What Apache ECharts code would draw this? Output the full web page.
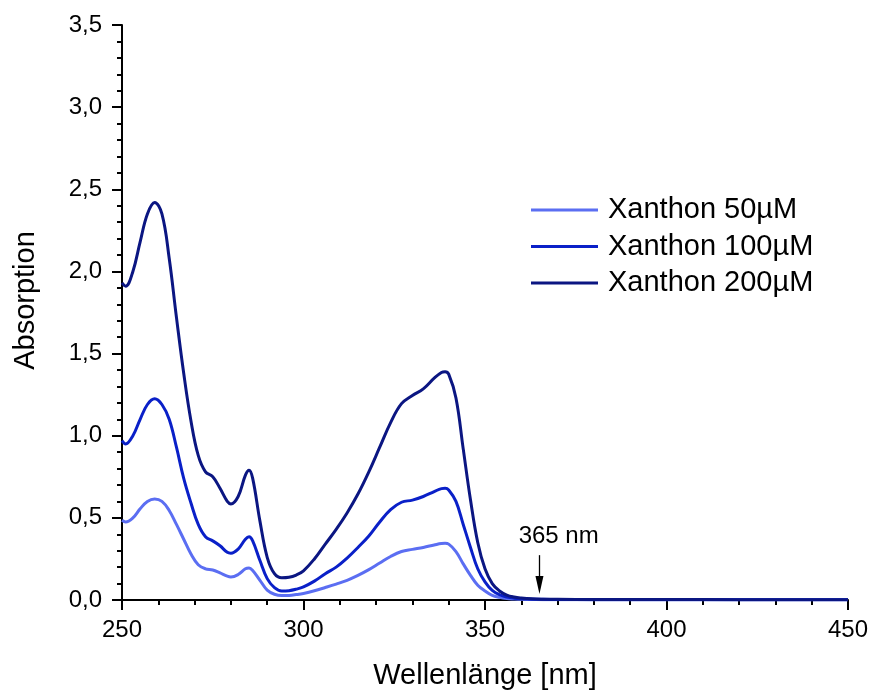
<!DOCTYPE html>
<html>
<head>
<meta charset="utf-8">
<script src="https://cdn.jsdelivr.net/npm/echarts@6/dist/echarts.min.js"></script>
<style>html,body{margin:0;padding:0;background:#fff}#c{width:875px;height:695px}</style>
</head>
<body>
<div id="c"></div>
<script>
var wavelengths = [250,251,253,255,257,259,261,263,265,267,269,271,273,275,277,279,280,282,284,285,286,288,290,292,294,296,298,300,303,306,309,312,315,318,321,324,327,330,333,336,338,339,340,342,344,346,348,350,352,354,356,358,360,363,366,370,380,400,420,450];
var abs200 = [1.93,1.91,2.00,2.18,2.35,2.42,2.35,2.08,1.72,1.38,1.09,0.88,0.78,0.75,0.68,0.60,0.585,0.63,0.76,0.79,0.74,0.48,0.26,0.16,0.135,0.138,0.152,0.178,0.25,0.34,0.43,0.53,0.645,0.78,0.93,1.08,1.195,1.245,1.285,1.35,1.385,1.39,1.375,1.23,0.92,0.61,0.35,0.19,0.10,0.055,0.03,0.018,0.012,0.007,0.005,0.004,0.003,0.003,0.002,0.002];
var abs100 = [0.97,0.95,1.00,1.10,1.19,1.225,1.19,1.10,0.93,0.74,0.59,0.46,0.385,0.36,0.33,0.29,0.285,0.31,0.37,0.385,0.36,0.24,0.13,0.075,0.055,0.057,0.066,0.08,0.115,0.16,0.20,0.255,0.32,0.39,0.475,0.55,0.595,0.608,0.63,0.66,0.678,0.68,0.67,0.60,0.46,0.32,0.19,0.11,0.058,0.032,0.018,0.011,0.008,0.005,0.004,0.003,0.002,0.002,0.002,0.002];
var abs50 = [0.485,0.475,0.50,0.555,0.60,0.615,0.60,0.545,0.46,0.37,0.28,0.215,0.19,0.183,0.165,0.145,0.14,0.155,0.19,0.195,0.18,0.12,0.06,0.035,0.027,0.028,0.033,0.04,0.056,0.076,0.097,0.12,0.15,0.185,0.225,0.265,0.295,0.308,0.32,0.335,0.344,0.345,0.34,0.295,0.22,0.15,0.09,0.055,0.028,0.016,0.009,0.006,0.004,0.003,0.002,0.002,0.002,0.001,0.001,0.001];
var seriesNames = ['Xanthon 50\u00b5M','Xanthon 100\u00b5M','Xanthon 200\u00b5M'];
var seriesColors = ['#5b6ef2','#0a20c8','#0b1682'];
var annotation = {wavelength: 365, label: '365 nm', arrowTop: 0.273, arrowTip: 0.036, labelX: 370.3, labelY: 0.385};

function pairs(vals){ return wavelengths.map(function(w,i){ return [w, vals[i]]; }); }
var font = 'Liberation Sans, Arial, Helvetica, sans-serif';
var chart = echarts.init(document.getElementById('c'), null, {renderer:'canvas'});
var allVals = [abs50, abs100, abs200];
var series = allVals.map(function(v,i){
  return {
    name: seriesNames[i], type:'line', data: pairs(v), showSymbol:false, symbol:'none',
    smooth: 0.4, lineStyle:{color:seriesColors[i], width:3}, itemStyle:{color:seriesColors[i]},
    z: 3+i, animation:false
  };
});
series[0].markLine = {
  silent:true, animation:false, symbol:['none','none'],
  lineStyle:{color:'#000', width:1.3, type:'solid'},
  label:{show:false},
  data:[[{coord:[annotation.wavelength, annotation.arrowTop]},{coord:[annotation.wavelength, annotation.arrowTip + 0.06]}]]
};
series[0].markPoint = {
  silent:true, animation:false,
  data:[
    {coord:[annotation.labelX, annotation.labelY], symbol:'circle', symbolSize:0,
     label:{show:true, position:'inside', formatter: annotation.label, color:'#000', fontSize:24, fontFamily:font}},
    {coord:[annotation.wavelength, annotation.arrowTip], symbol:'triangle', symbolSize:[8,18], symbolRotate:180,
     symbolOffset:[0,-9], itemStyle:{color:'#000'}, label:{show:false}}
  ]
};
chart.setOption({
  animation:false,
  backgroundColor:'#fff',
  grid:{left:122, right:27, top:25, bottom:93, containLabel:false},
  legend:{
    data: seriesNames, orient:'vertical', left:526, top:190, icon:'rect', itemWidth:67, itemHeight:3, itemGap:6.5,
    textStyle:{fontSize:29, lineHeight:30, fontFamily:font, color:'#000', padding:[0,0,0,5]}
  },
  xAxis:{
    type:'value', min:250, max:450, interval:50,
    name:'Wellenl\u00e4nge [nm]', nameLocation:'middle', nameGap:61,
    nameTextStyle:{fontSize:29, fontFamily:font, color:'#000'},
    axisLine:{show:true, lineStyle:{color:'#000', width:2}},
    axisTick:{show:true, inside:false, length:10, lineStyle:{color:'#000', width:2}},
    minorTick:{show:true, splitNumber:5, length:5, lineStyle:{color:'#000', width:2}},
    axisLabel:{fontSize:24, fontFamily:font, color:'#000', margin:18},
    splitLine:{show:false}
  },
  yAxis:{
    type:'value', min:0, max:3.5, interval:0.5,
    name:'Absorption', nameLocation:'middle', nameGap:82, nameRotate:90,
    nameTextStyle:{fontSize:29, fontFamily:font, color:'#000', padding:[0,0,0,24]},
    axisLine:{show:true, lineStyle:{color:'#000', width:2}},
    axisTick:{show:true, inside:false, length:10, lineStyle:{color:'#000', width:2}},
    minorTick:{show:true, splitNumber:5, length:5, lineStyle:{color:'#000', width:2}},
    axisLabel:{fontSize:24, fontFamily:font, color:'#000', margin:20,
      formatter:function(v){ return v.toFixed(1).replace('.', ','); }},
    splitLine:{show:false}
  },
  series: series
});
</script>
</body>
</html>
